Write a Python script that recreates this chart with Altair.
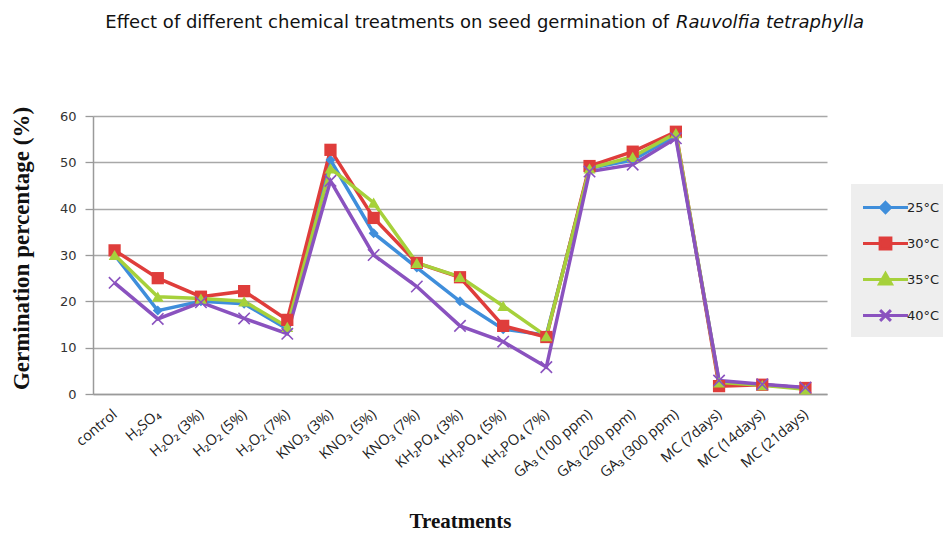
import altair as alt
import pandas as pd

categories = ["control", "H₂SO₄", "H₂O₂ (3%)", "H₂O₂ (5%)", "H₂O₂ (7%)",
              "KNO₃ (3%)", "KNO₃ (5%)", "KNO₃ (7%)", "KH₂PO₄ (3%)", "KH₂PO₄ (5%)",
              "KH₂PO₄ (7%)", "GA₃ (100 ppm)", "GA₃ (200 ppm)", "GA₃ (300 ppm)",
              "MC (7days)", "MC (14days)", "MC (21days)"]
series_names = ["25°C", "30°C", "35°C", "40°C"]
t25 = [30, 18, 20, 19.5, 14, 50.5, 34.7, 27.3, 20, 14, 12.7, 48.7, 50.5, 55.8, 2.5, 2, 1.3]
t30 = [31, 25, 21, 22.2, 16, 52.7, 38, 28.3, 25.2, 14.7, 12.3, 49.2, 52.3, 56.6, 1.7, 2, 1.3]
t35 = [30, 21, 20.6, 20, 14.5, 48.7, 41.3, 28.3, 25.3, 19, 12.5, 48.7, 51.2, 56.3, 2.5, 1.9, 1.0]
t40 = [24, 16.2, 19.8, 16.3, 13, 46, 30, 23.2, 14.7, 11.3, 5.8, 48, 49.5, 55.2, 2.9, 2.1, 1.4]
y_ticks = [0, 10, 20, 30, 40, 50, 60]
title_main = "Effect of different chemical treatments on seed germination of"
title_italic = "Rauvolfia  tetraphylla"

colors = ["#3f8edb", "#df3d3b", "#a6d13b", "#8a52bf"]
marker_shapes = ["diamond", "square", "triangle-up", "M-1,-1L1,1M-1,1L1,-1"]
marker_sizes = [100, 150, 140, 130]
legend_paths = [
    "M-1.875,0H1.875M0,-0.42L0.42,0L0,0.42L-0.42,0Z",
    "M-1.875,0H1.875M-0.45,-0.45H0.45V0.45H-0.45Z",
    "M-1.875,0H1.875M0,-0.5L0.5,0.38L-0.5,0.38Z",
    "M-1.875,0H1.875M-0.45,-0.45L0.45,0.45M-0.45,0.45L0.45,-0.45",
]

rows = []
for name, vals in zip(series_names, [t25, t30, t35, t40]):
    for c, v in zip(categories, vals):
        rows.append({"treatment": c, "series": name, "value": v})
df = pd.DataFrame(rows)

# data-driven domain (sorted: 25, 30, 35, 40) for the drawn marks
color_scale = alt.Scale(range=colors)
# explicit domain for the legend-only scales
legend_color_scale = alt.Scale(domain=series_names, range=colors)

x_enc = alt.X(
    "treatment:N", sort=categories,
    scale=alt.Scale(type="point", padding=0.5),
    axis=alt.Axis(
        title="Treatments", titleFont="Liberation Serif", titleFontWeight="bold",
        titleFontSize=21, titleColor="#111", titleY=127, titleBaseline="middle",
        labelAngle=-40, labelAlign="right", labelBaseline="top", labelPadding=13,
        labelOffset=-4,
        labelFont="Open Sans", labelFontSize=14.5, labelColor="#222",
        ticks=False, domainColor="#9a9a9a", domainWidth=1.5, grid=False,
    ),
)
y_enc = alt.Y(
    "value:Q",
    scale=alt.Scale(domain=[0, 60], nice=False),
    axis=alt.Axis(
        values=y_ticks, title="Germination percentage (%)",
        titleFont="Liberation Serif", titleFontWeight="bold", titleFontSize=23,
        titleColor="#111", titleX=-72, titleY=132, titleAngle=-90,
        titleAlign="center", titleBaseline="middle",
        labelFont="DejaVu Sans", labelFontSize=13, labelColor="#333", labelPadding=9,
        tickSize=8, tickColor="#9a9a9a", tickWidth=1.3,
        domainColor="#9a9a9a", domainWidth=1.5,
        grid=True, gridColor="#a8a8a8", gridWidth=1.4,
    ),
)

base = alt.Chart(df)

lines = base.mark_line(strokeWidth=3.5).encode(
    x=x_enc, y=y_enc,
    color=alt.Color("series:N", scale=color_scale, legend=None),
    detail="series:N",
)

point_layers = []
for i, name in enumerate(series_names):
    filled = i < 3
    pl = base.transform_filter(alt.datum.series == name).mark_point(
        shape=marker_shapes[i], size=marker_sizes[i], filled=filled,
        opacity=1, strokeWidth=1.6,
    ).encode(
        x=x_enc, y=y_enc,
        color=alt.Color("series:N", scale=color_scale, legend=None),
    )
    point_layers.append(pl)

leg = alt.Legend(
    orient="none", legendX=758, legendY=68,
    fillColor="#eeeeee", padding=10, symbolSize=576, symbolStrokeWidth=3,
    symbolOffset=11, labelOffset=8, rowPadding=11,
    labelFont="DejaVu Sans", labelFontSize=13, labelColor="#222",
)
legend_layer = base.transform_filter("false").mark_point(filled=True, opacity=1).encode(
    fill=alt.Fill("series:N", scale=legend_color_scale, legend=leg, title=""),
    stroke=alt.Stroke("series:N", scale=legend_color_scale, legend=leg, title=""),
    shape=alt.Shape("series:N", scale=alt.Scale(domain=series_names, range=legend_paths),
                    legend=leg, title=""),
)

tdf = pd.DataFrame({"a": [title_main], "b": [title_italic]})
t1 = alt.Chart(tdf).mark_text(align="right", baseline="middle", font="DejaVu Sans",
                              fontSize=18, color="#111").encode(
    x=alt.value(576), y=alt.value(-93), text="a:N")
t2 = alt.Chart(tdf).mark_text(align="left", baseline="middle", font="DejaVu Sans",
                              fontSize=18, fontStyle="italic", color="#111").encode(
    x=alt.value(583), y=alt.value(-93), text="b:N")

chart = alt.layer(lines, *point_layers, legend_layer, t1, t2).properties(
    width=734, height=278,
    autosize=alt.AutoSizeParams(type="none"),
    padding={"left": 85, "top": 108, "right": 116, "bottom": 140},
    background="white",
).configure_view(stroke=None)

chart.save("out.html", embed_options={"renderer": "svg", "actions": False})
